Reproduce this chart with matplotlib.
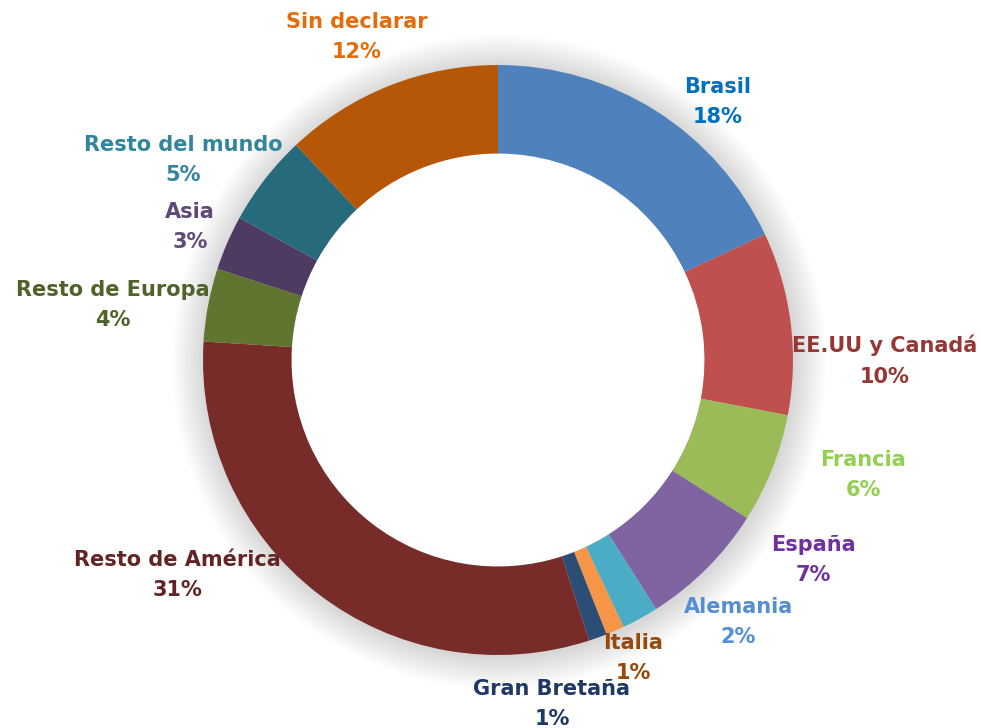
import matplotlib
matplotlib.use("Agg")
import matplotlib.pyplot as plt
import numpy as np

categories = ["Brasil", "EE.UU y Canadá", "Francia", "España", "Alemania", "Italia",
              "Gran Bretaña", "Resto de América", "Resto de Europa", "Asia",
              "Resto del mundo", "Sin declarar"]
values = [18, 10, 6, 7, 2, 1, 1, 31, 4, 3, 5, 12]
slice_colors = ["#4F81BD", "#C0504D", "#9BBB59", "#8064A2", "#4BACC6", "#F79646",
                "#2C4D75", "#772C2A", "#5F7530", "#4D3B62", "#276A7C", "#B65708"]
label_colors = ["#0070C0", "#953735", "#92D050", "#7030A0", "#558ED5", "#984807",
                "#1F3864", "#632523", "#4F6228", "#5F497A", "#31859C", "#E46C0A"]
# label centres, in units of the outer radius relative to the ring centre
label_pos = [(0.746, 0.875), (1.31, -0.003), (1.238, -0.390), (1.068, -0.678),
             (0.814, -0.888), (0.458, -1.010), (0.183, -1.166), (-1.088, -0.729),
             (-1.305, 0.186), (-1.044, 0.451), (-1.068, 0.678), (-0.478, 1.095)]

W, H = 981, 728
cx, cy, R = 498, 360, 295
fig = plt.figure(figsize=(W / 100, H / 100), dpi=100)
ax = fig.add_axes([0, 0, 1, 1])
ax.set_aspect("equal")
ax.axis("off")

# soft shadow / glow around the ring
n = 40
for i in range(n):
    r = 1.0 + 0.11 * (i + 1) / n
    ax.add_patch(plt.Circle((0.004, -0.006), r, color="#000000", alpha=0.0028,
                            lw=0, zorder=0))

width = 0.3
wedges, _ = ax.pie(values, colors=slice_colors, startangle=90, counterclock=False,
                   radius=1.0, wedgeprops=dict(width=width, linewidth=0),
                   frame=False)
for w in wedges:
    w.set_zorder(2)
ax.add_patch(plt.Circle((0, 0), 1 - width, color="white", lw=0, zorder=1))
ax.set_xlim(-cx / R, (W - cx) / R)
ax.set_ylim(-(H - cy) / R, cy / R)

for cat, v, col, (lx, ly) in zip(categories, values, label_colors, label_pos):
    ax.text(lx, ly, f"{cat}\n{v}%", ha="center", va="center", color=col,
            fontsize=15, fontweight="bold", family="DejaVu Sans",
            linespacing=1.65, zorder=5)

fig.savefig("out.png", dpi=100, facecolor="white")
